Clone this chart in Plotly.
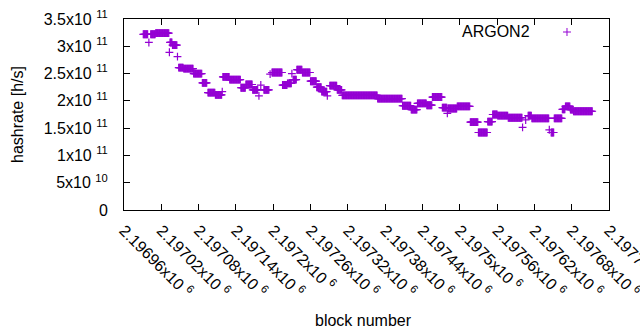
import plotly.graph_objects as go

# runs of consecutive blocks sharing one hashrate reading (x1e11 h/s)
run_start = [2196991, 2197000, 2197003, 2197011, 2197033, 2197034, 2197038, 2197046,
             2197048, 2197056, 2197072, 2197086, 2197095, 2197107, 2197118, 2197119,
             2197130, 2197148, 2197156, 2197167, 2197177, 2197180, 2197185, 2197195,
             2197198, 2197215, 2197223, 2197230, 2197232, 2197238, 2197247, 2197260,
             2197270, 2197278, 2197287, 2197291, 2197303, 2197311, 2197368, 2197408,
             2197422, 2197432, 2197447, 2197456, 2197472, 2197480, 2197481, 2197496,
             2197517, 2197530, 2197545, 2197553, 2197561, 2197578, 2197601, 2197606,
             2197610, 2197616, 2197644, 2197647, 2197652, 2197665, 2197670, 2197678,
             2197683]
run_end = [2196998, 2197000, 2197010, 2197032, 2197033, 2197037, 2197045, 2197046,
           2197055, 2197071, 2197085, 2197093, 2197106, 2197117, 2197118, 2197129,
           2197147, 2197155, 2197166, 2197175, 2197177, 2197180, 2197193, 2197195,
           2197214, 2197222, 2197229, 2197230, 2197237, 2197246, 2197259, 2197269,
           2197277, 2197286, 2197287, 2197302, 2197310, 2197367, 2197407, 2197421,
           2197431, 2197446, 2197455, 2197471, 2197479, 2197480, 2197495, 2197516,
           2197529, 2197544, 2197552, 2197560, 2197577, 2197600, 2197601, 2197606,
           2197615, 2197643, 2197644, 2197651, 2197664, 2197669, 2197677, 2197682,
           2197713]
run_value = [3.22, 3.07, 3.22, 3.24, 2.89, 3.07, 3.02, 2.81,
             2.61, 2.59, 2.50, 2.33, 2.15, 2.11, 2.17, 2.44,
             2.39, 2.24, 2.30, 2.20, 2.09, 2.29, 2.20, 2.49,
             2.52, 2.29, 2.32, 2.50, 2.39, 2.57, 2.52, 2.36,
             2.25, 2.17, 2.09, 2.28, 2.20, 2.10, 2.04, 1.91,
             1.84, 1.955, 1.92, 2.07, 1.875, 1.77, 1.86, 1.90,
             1.61, 1.42, 1.62, 1.75, 1.73, 1.69, 1.515, 1.65,
             1.73, 1.68, 1.47, 1.42, 1.68, 1.845, 1.90, 1.84,
             1.81]

x_tickvals = [2196960, 2197020, 2197080, 2197140, 2197200, 2197260, 2197320,
              2197380, 2197440, 2197500, 2197560, 2197620, 2197680, 2197740]
x_ticktext = ["2.19696", "2.19702", "2.19708", "2.19714", "2.1972", "2.19726", "2.19732",
              "2.19738", "2.19744", "2.1975", "2.19756", "2.19762", "2.19768", "2.19774"]
y_tickvals = [0, 5e10, 1e11, 1.5e11, 2e11, 2.5e11, 3e11, 3.5e11]
y_ticktext = ["0", "5x10 <sup>10</sup>", "1x10 <sup>11</sup>", "1.5x10 <sup>11</sup>",
              "2x10 <sup>11</sup>", "2.5x10 <sup>11</sup>", "3x10 <sup>11</sup>",
              "3.5x10 <sup>11</sup>"]

blocks, rates = [], []
for s, e, v in zip(run_start, run_end, run_value):
    for b in range(s, e + 1):
        blocks.append(b)
        rates.append(v * 1e11)

COL = "#9400d3"
FONT = "Liberation Sans, Arial, sans-serif"

fig = go.Figure()
fig.add_trace(go.Scatter(
    x=blocks, y=rates, mode="markers", name="ARGON2", showlegend=False,
    marker=dict(symbol="cross-thin", size=5.6, color=COL,
                line=dict(color=COL, width=1.2)),
))

axis_common = dict(showline=True, linecolor="black", linewidth=1, mirror="ticks",
                   ticks="inside", ticklen=6, tickcolor="black", tickwidth=1,
                   showgrid=False, zeroline=False, ticklabeloverflow="allow",
                   tickfont=dict(family=FONT, size=16, color="black"))

fig.update_xaxes(range=[2196959.99, 2197740.01], tickmode="array", tickvals=x_tickvals,
                 ticktext=[t + "x10 <sup>6</sup>" for t in x_ticktext],
                 tickangle=45, ticklabelstandoff=4, **axis_common)
fig.update_yaxes(range=[0, 3.5e11], tickmode="array", tickvals=y_tickvals,
                 ticktext=y_ticktext, ticklabelstandoff=12, **axis_common)

fig.update_layout(
    width=640, height=330,
    margin=dict(l=124, r=31, t=19, b=120, autoexpand=False),
    paper_bgcolor="white", plot_bgcolor="white",
    font=dict(family=FONT, size=16, color="black"),
    annotations=[
        dict(text="hashrate [h/s]", xref="paper", yref="paper", x=-0.2196, y=0.5,
             textangle=-90, showarrow=False, xanchor="center", yanchor="middle",
             font=dict(family=FONT, size=16, color="black")),
        dict(text="block number", xref="paper", yref="paper", x=0.4948, y=-0.576,
             showarrow=False, xanchor="center", yanchor="middle",
             font=dict(family=FONT, size=16, color="black")),
        dict(text="ARGON2", xref="paper", yref="paper", x=0.8406, y=0.932,
             showarrow=False, xanchor="right", yanchor="middle",
             font=dict(family=FONT, size=16, color="black")),
    ],
    shapes=[
        dict(type="line", xref="paper", yref="paper", x0=0.9052, x1=0.9216,
             y0=0.9319, y1=0.9319, line=dict(color=COL, width=1)),
        dict(type="line", xref="paper", yref="paper", x0=0.9134, x1=0.9134,
             y0=0.911, y1=0.9529, line=dict(color=COL, width=1)),
    ],
)

fig.write_html("out.html", config={"displayModeBar": False},
               post_script="document.body.style.margin='0';document.body.style.overflow='hidden';")
